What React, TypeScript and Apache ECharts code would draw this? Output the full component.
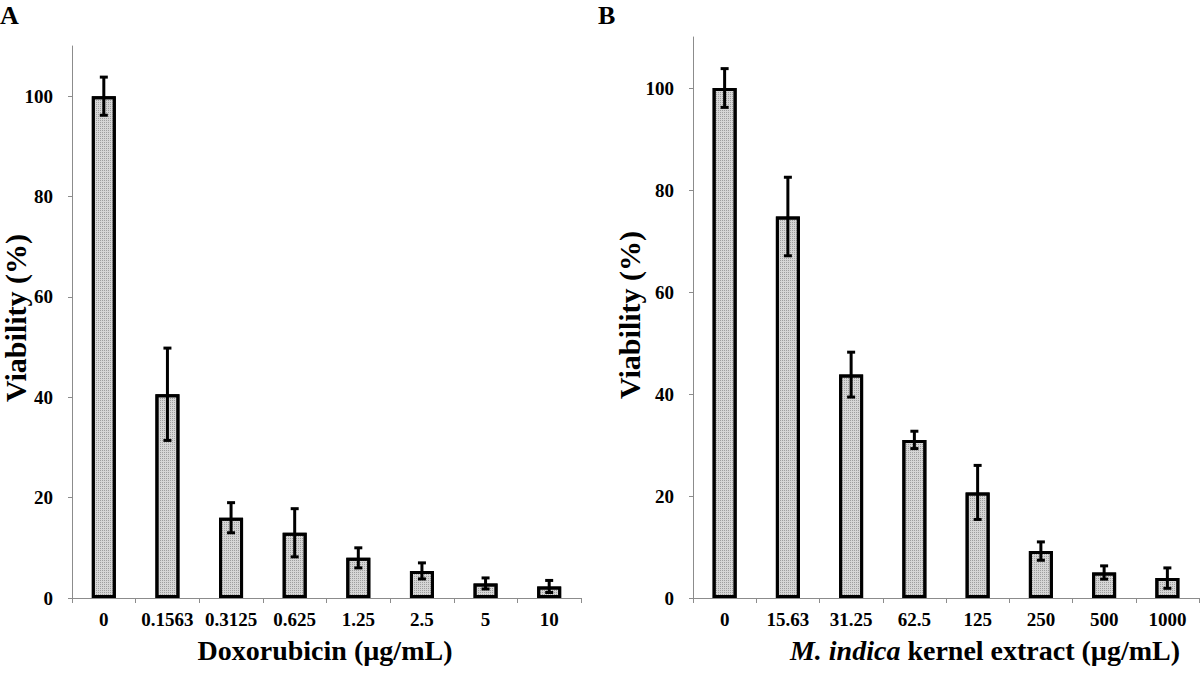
import React, { useEffect, useRef } from "react";
import * as echarts from "echarts";

const catsA = ["0", "0.1563", "0.3125", "0.625", "1.25", "2.5", "5", "10"];
const valsA = [100, 40.6, 16, 13, 8, 5.4, 2.9, 2.3];
const errA = [3.8, 9.2, 3, 4.8, 2, 1.6, 1.1, 1.2];

const catsB = ["0", "15.63", "31.25", "62.5", "125", "250", "500", "1000"];
const valsB = [100, 74.8, 43.8, 31, 20.7, 9.2, 5, 3.9];
const errB = [3.8, 7.7, 4.4, 1.7, 5.3, 1.8, 1.3, 2];

const yTicks = [0, 20, 40, 60, 80, 100];

const FONT = "'Liberation Serif', 'Times New Roman', serif";

export default function App() {
  const ref = useRef<HTMLDivElement>(null);
  useEffect(() => {
    if (!ref.current) return;
    const chart = echarts.init(ref.current, null, { renderer: "svg" });
    const errData = (vals: number[], errs: number[]) =>
      vals.map((v, i) => [i, v - errs[i], v + errs[i]]);
    const renderErr = (params: any, api: any) => {
      const i = api.value(0);
      const lo = api.coord([i, api.value(1)]);
      const hi = api.coord([i, api.value(2)]);
      const cap = 4;
      const style = { stroke: "#000", lineWidth: 3 };
      return {
        type: "group",
        children: [
          { type: "line", shape: { x1: hi[0], y1: hi[1], x2: lo[0], y2: lo[1] }, style },
          { type: "line", shape: { x1: hi[0] - cap, y1: hi[1], x2: hi[0] + cap, y2: hi[1] }, style },
          { type: "line", shape: { x1: lo[0] - cap, y1: lo[1], x2: lo[0] + cap, y2: lo[1] }, style },
        ],
      };
    };
    const xAxisCommon = (cats: string[], idx: number) => ({
      type: "category",
      gridIndex: idx,
      data: cats,
      boundaryGap: true,
      axisLine: { lineStyle: { color: "#8c8c8c", width: 1 } },
      axisTick: { show: true, length: 5, lineStyle: { color: "#8c8c8c" } },
      axisLabel: {
        color: "#000",
        fontFamily: FONT,
        fontWeight: "bold",
        fontSize: 19,
        margin: 12,
        interval: 0,
      },
    });
    const yAxisCommon = (idx: number) => ({
      type: "value",
      gridIndex: idx,
      min: 0,
      max: 110,
      interval: 20,
      splitLine: { show: false },
      axisLine: { show: true, lineStyle: { color: "#8c8c8c", width: 1 } },
      axisTick: { show: true, length: 4, lineStyle: { color: "#8c8c8c" }, customValues: yTicks },
      axisLabel: {
        color: "#000",
        fontFamily: FONT,
        fontWeight: "bold",
        fontSize: 19,
        margin: 19,
        customValues: yTicks,
      },
    });
    const barStyle = {
      color: "#d6d6d6",
      borderColor: "#000",
      borderWidth: 3,
      decal: {
        symbol: "rect",
        symbolSize: 1,
        color: "rgba(110,110,110,0.55)",
        dashArrayX: [1, 1],
        dashArrayY: [1, 1],
        rotation: 0,
      },
    };
    chart.setOption({
      animation: false,
      backgroundColor: "#fff",
      grid: [
        { left: 72, top: 46, width: 509, height: 552 },
        { left: 693, top: 37, width: 506, height: 561 },
      ],
      xAxis: [xAxisCommon(catsA, 0), xAxisCommon(catsB, 1)],
      yAxis: [yAxisCommon(0), yAxisCommon(1)],
      series: [
        { type: "bar", xAxisIndex: 0, yAxisIndex: 0, data: valsA, barWidth: 24, itemStyle: barStyle },
        { type: "bar", xAxisIndex: 1, yAxisIndex: 1, data: valsB, barWidth: 24, itemStyle: barStyle },
        { type: "custom", xAxisIndex: 0, yAxisIndex: 0, data: errData(valsA, errA), renderItem: renderErr, z: 5 },
        { type: "custom", xAxisIndex: 1, yAxisIndex: 1, data: errData(valsB, errB), renderItem: renderErr, z: 5 },
      ],
      graphic: [
        { type: "text", left: 0, top: 2, style: { text: "A", font: `bold 26px ${FONT}`, fill: "#000" } },
        { type: "text", left: 598, top: 2, style: { text: "B", font: `bold 26px ${FONT}`, fill: "#000" } },
        {
          type: "text",
          x: 15,
          y: 318,
          rotation: Math.PI / 2,
          style: { text: "Viability (%)", font: `bold 30px ${FONT}`, fill: "#000", align: "center", verticalAlign: "middle" },
        },
        {
          type: "text",
          x: 629,
          y: 315,
          rotation: Math.PI / 2,
          style: { text: "Viability (%)", font: `bold 30px ${FONT}`, fill: "#000", align: "center", verticalAlign: "middle" },
        },
        {
          type: "text",
          x: 325,
          y: 650,
          style: { text: "Doxorubicin (µg/mL)", font: `bold 28px ${FONT}`, fill: "#000", align: "center", verticalAlign: "middle" },
        },
        {
          type: "text",
          x: 985,
          y: 650,
          style: {
            text: "{i|M. indica} kernel extract (µg/mL)",
            font: `bold 28px ${FONT}`,
            fill: "#000",
            align: "center",
            verticalAlign: "middle",
            rich: {
              i: { fontStyle: "italic", fontWeight: "bold", fontSize: 28, fontFamily: FONT, fill: "#000" },
            },
          },
        },
      ],
    });
    return () => chart.dispose();
  }, []);
  return (
    <div
      ref={ref}
      style={{ position: "fixed", left: 0, top: 0, width: 1200, height: 674, background: "#fff" }}
    />
  );
}
